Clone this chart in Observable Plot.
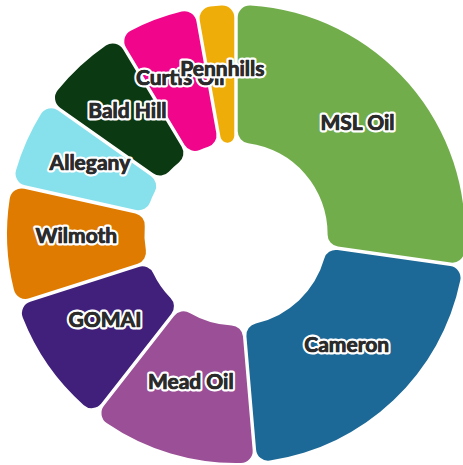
<!DOCTYPE html>
<html>
<head>
<meta charset="utf-8">
<script src="https://cdn.jsdelivr.net/npm/d3@7"></script>
<script src="https://cdn.jsdelivr.net/npm/@observablehq/plot@0.6"></script>
<style>
  html, body { margin: 0; padding: 0; background: #fff; }
</style>
</head>
<body>
<div id="chart"></div>
<script>
const names = ["MSL Oil", "Cameron", "Mead Oil", "GOMAI", "Wilmoth", "Allegany", "Bald Hill", "Curtis Oil", "Pennhills"];
const values = [27.2, 21.4, 11.9, 9.5, 8.4, 6.3, 6.6, 5.8, 2.8];
const colors = ["#72ad4b", "#1c6896", "#9a4f96", "#40207a", "#df7b00", "#87e1ec", "#0a3912", "#f0058b", "#efad0a"];

const outerU = 1, innerU = 0.40;
const pie = d3.pie().sort(null).value(d => d.value);
const table = pie(names.map((name, i) => ({name, value: values[i], color: colors[i]})))
  .map(a => {
    const mid = (a.startAngle + a.endAngle) / 2;
    const r = (innerU + outerU) / 2;
    return {...a, name: a.data.name, color: a.data.color, lx: r * Math.sin(mid), ly: r * Math.cos(mid)};
  });

function arcs(index, scales, values, dimensions, context) {
  const cx = scales.x(0), cy = scales.y(0);
  const R = scales.x(outerU) - scales.x(0);
  const arc = d3.arc()
    .innerRadius(R * innerU)
    .outerRadius(R)
    .cornerRadius(12)
    .padAngle(0.014);
  const g = d3.create("svg:g").attr("transform", `translate(${cx},${cy})`);
  g.selectAll("path").data(table).join("path")
    .attr("d", arc)
    .attr("fill", d => d.color);
  return g.node();
}

const textOpts = {
  x: "lx", y: "ly", text: "name",
  dy: -6,
  fontSize: 21,
  fontWeight: "bold",
  fontFamily: "Lato, 'Noto Sans', sans-serif"
};

// each label: halo then emboldened fill, drawn label by label
const labelMarks = table.flatMap(row => [
  Plot.text([row], {...textOpts, fill: "#2b2b2b", stroke: "white", strokeWidth: 5}),
  Plot.text([row], {...textOpts, fill: "#2b2b2b", stroke: "#2b2b2b", strokeWidth: 0.7})
]);

const chart = Plot.plot({
  width: 463,
  height: 465,
  margin: 0,
  x: {domain: [-1, 1], range: [7, 465], axis: null},
  y: {domain: [-1, 1], range: [463, 5], axis: null},
  marks: [arcs, ...labelMarks]
});
document.getElementById("chart").appendChild(chart);
</script>
</body>
</html>
